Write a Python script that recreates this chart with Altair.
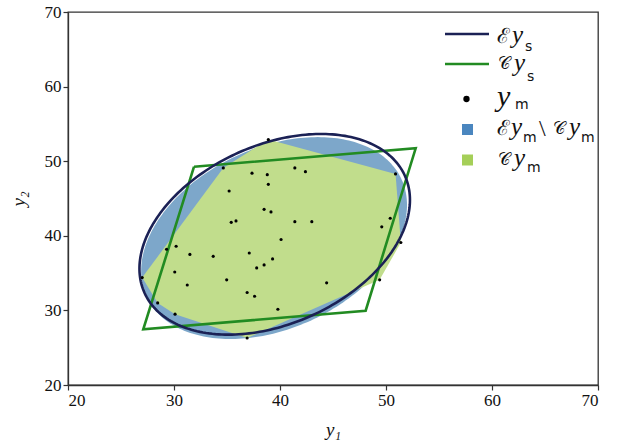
import altair as alt
import numpy as np
import pandas as pd

# measured outputs y_m
y1_m = [38.9, 34.65, 37.36, 38.8, 41.4, 42.4, 38.9, 35.2, 38.5, 39.15, 35.4, 35.85,
        41.4, 43.0, 40.1, 29.3, 30.2, 31.5, 33.7, 37.1, 39.3, 38.5, 37.8, 27.0,
        30.07, 31.25, 34.97, 36.9, 37.6, 28.46, 30.1, 39.8, 36.9,
        50.9, 50.4, 49.6, 51.4, 44.4, 49.4]
y2_m = [52.9, 49.1, 48.4, 48.2, 49.1, 48.6, 46.9, 46.0, 43.55, 43.2, 41.8, 42.0,
        41.9, 41.9, 39.5, 38.2, 38.6, 37.5, 37.25, 37.7, 36.9, 36.1, 35.7, 34.4,
        35.15, 33.4, 34.1, 32.4, 31.9, 31.0, 29.5, 30.15, 26.3,
        48.3, 42.35, 41.2, 39.1, 33.7, 34.1]

# ellipse of y_s: centre and shape matrix
ell_s_center = [39.5, 40.2]
ell_s_shape = [[162.8, 58.7], [58.7, 180.9]]
# ellipse of y_m: centre and shape matrix
ell_m_center = [39.44, 39.7]
ell_m_shape = [[157.3, 55.6], [55.6, 183.1]]

# parallelogram C y_s (corners in order, closed)
par_y1 = [31.89, 52.8, 48.08, 27.1, 31.89]
par_y2 = [49.26, 51.73, 29.96, 27.47, 49.26]

NAVY = "#1b2155"
GREEN_LINE = "#228b22"


def ellipse_outline(center, shape, n=240):
    L = np.linalg.cholesky(np.array(shape))
    t = np.linspace(0, 2 * np.pi, n)
    p = L @ np.vstack([np.cos(t), np.sin(t)])
    return pd.DataFrame({"y1": center[0] + p[0], "y2": center[1] + p[1], "i": np.arange(n)})


def convex_hull(xs, ys):
    pts = sorted(set(zip(xs, ys)))

    def cross(o, a, b):
        return (a[0] - o[0]) * (b[1] - o[1]) - (a[1] - o[1]) * (b[0] - o[0])

    lower, upper = [], []
    for p in pts:
        while len(lower) >= 2 and cross(lower[-2], lower[-1], p) <= 0:
            lower.pop()
        lower.append(p)
    for p in reversed(pts):
        while len(upper) >= 2 and cross(upper[-2], upper[-1], p) <= 0:
            upper.pop()
        upper.append(p)
    hull = lower[:-1] + upper[:-1]
    hull.append(hull[0])
    return pd.DataFrame({"y1": [p[0] for p in hull], "y2": [p[1] for p in hull], "i": range(len(hull))})


xs = alt.Scale(domain=[20, 70], nice=False, zero=False)
ys = alt.Scale(domain=[20, 70], nice=False, zero=False)
X = alt.X("y1:Q", scale=xs, title="y₁",
          axis=alt.Axis(values=[20, 30, 40, 50, 60, 70], grid=False))
Y = alt.Y("y2:Q", scale=ys, title="y₂",
          axis=alt.Axis(values=[20, 30, 40, 50, 60, 70], grid=False))

ell_m = ellipse_outline(ell_m_center, ell_m_shape)
ell_s = ellipse_outline(ell_s_center, ell_s_shape)
hull = convex_hull(y1_m, y2_m)
par = pd.DataFrame({"y1": par_y1, "y2": par_y2, "i": range(len(par_y1))})
pts = pd.DataFrame({"y1": y1_m, "y2": y2_m})

blue_fill = alt.Chart(ell_m).mark_line(fill="#4682b4", fillOpacity=0.7, strokeOpacity=0).encode(
    x=X, y=Y, order="i:Q")
green_fill = alt.Chart(hull).mark_line(fill="#c1dd8c", strokeOpacity=0).encode(
    x=X, y=Y, order="i:Q")
par_line = alt.Chart(par).mark_line(color=GREEN_LINE, strokeWidth=2.6).encode(
    x=X, y=Y, order="i:Q")
ell_line = alt.Chart(ell_s).mark_line(color=NAVY, strokeWidth=2.6).encode(
    x=X, y=Y, order="i:Q")
dots = alt.Chart(pts).mark_circle(color="black", size=10, opacity=1).encode(x=X, y=Y)

# legend, placed in pixel space of the plot area
PX = alt.X("px:Q", scale=None)
PY = alt.Y("py:Q", scale=None)


def leg_rule(y, color):
    return alt.Chart(pd.DataFrame({"px": [377, 421], "py": [y, y]})).mark_line(
        color=color, strokeWidth=2.6).encode(x=PX, y=PY)


def leg_square(y, color):
    return alt.Chart(pd.DataFrame({"px": [399.5], "py": [y]})).mark_square(
        color=color, size=121, opacity=1).encode(x=PX, y=PY)


def leg_text(rows, font, size, style="normal"):
    df = pd.DataFrame(rows, columns=["px", "py", "t"])
    return alt.Chart(df).mark_text(
        font=font, fontSize=size, fontStyle=style, align="left", baseline="middle",
        color="#111111").encode(x=PX, y=PY, text="t:N")


leg_dot = alt.Chart(pd.DataFrame({"px": [398.5], "py": [87]})).mark_circle(
    color="black", size=40, opacity=1).encode(x=PX, y=PY)

script_e = leg_text([(429, 25, "ℰ"), (429, 117, "ℰ")], "DejaVu Serif", 21)
script_c = leg_text([(430, 52, "𝒞"), (485, 117, "𝒞"), (430, 148, "𝒞")], "DejaVu Serif", 17)
ital_y = leg_text([(444, 23, "y"), (446, 51, "y"), (443, 115, "y"), (501, 115, "y"), (446, 146, "y")],
                  "Liberation Serif", 25, "italic")
big_y = leg_text([(429, 85, "y")], "Liberation Serif", 30, "italic")
subs = leg_text([(457, 35, "s"), (459, 65, "s"), (447, 93, "m"), (455, 126, "m"), (513, 126, "m"),
                 (459, 156, "m")], "DejaVu Sans", 14)
slash = leg_text([(471, 117, "\\")], "Liberation Serif", 24)

chart = alt.layer(
    blue_fill, green_fill, par_line, ell_line, dots,
    leg_rule(22, NAVY), leg_rule(52, GREEN_LINE), leg_dot,
    leg_square(117.5, "#4a86bf"), leg_square(148, "#a5cf58"),
    script_e, script_c, ital_y, big_y, subs, slash
).properties(
    width=530, height=373,
    autosize=alt.AutoSizeParams(type="none"),
    padding={"left": 68, "top": 12, "right": 21, "bottom": 63},
).configure_view(
    stroke="#333333", strokeWidth=1.3
).configure_axis(
    domainColor="#333333", domainWidth=1.3, tickColor="#333333", tickSize=5, tickWidth=1.2,
    labelFont="Liberation Serif", labelFontSize=17, labelColor="#111111", labelPadding=2,
    titleFont="Liberation Serif", titleFontStyle="italic", titleFontWeight="normal",
    titleFontSize=19, titleColor="#111111"
).configure_axisX(titlePadding=12).configure_axisY(titlePadding=16)

chart.save("out.html", embed_options={"renderer": "svg", "actions": False})
